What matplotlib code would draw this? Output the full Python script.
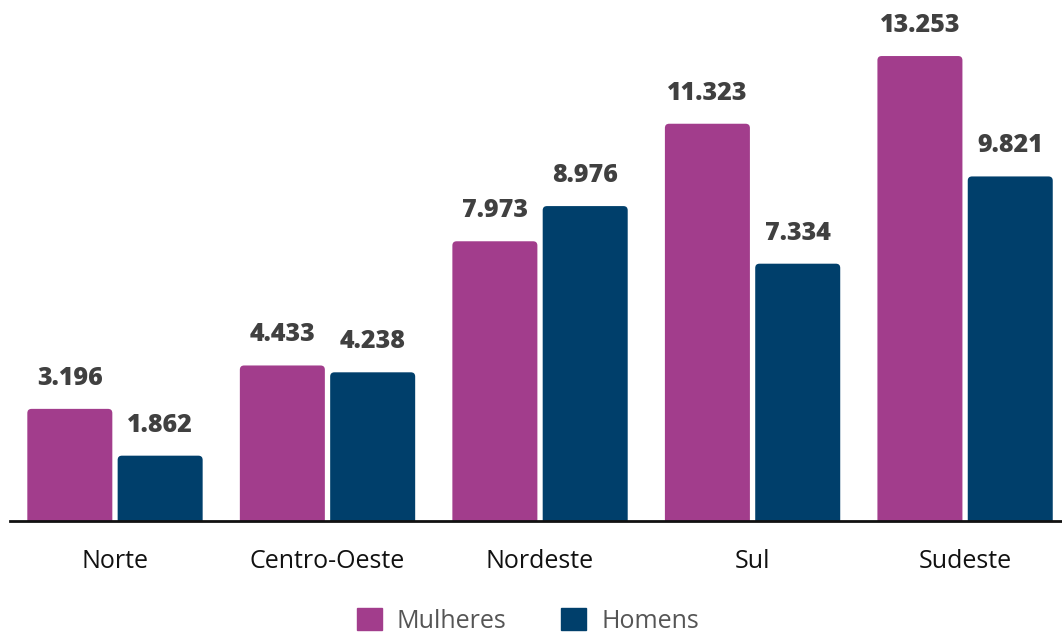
import matplotlib
matplotlib.use("Agg")
import matplotlib.pyplot as plt
from matplotlib.patches import FancyBboxPatch, Patch
import numpy as np

# dados por região
regioes = ["Norte", "Centro-Oeste", "Nordeste", "Sul", "Sudeste"]
mulheres = [3.196, 4.433, 7.973, 11.323, 13.253]
homens = [1.862, 4.238, 8.976, 7.334, 9.821]

cor_mulheres = "#A23D8C"
cor_homens = "#003F6B"

plt.rcParams['font.family'] = ['Open Sans', 'DejaVu Sans']

fig = plt.figure(figsize=(10.62, 6.36), dpi=100)
ax = fig.add_axes([10/1062, 1 - 521/636, 1052/1062, 521/636])

x = np.arange(len(regioes))
largura = 0.4
desloc = 0.2125

b1 = ax.bar(x - desloc, mulheres, largura, color=cor_mulheres, label="Mulheres")
b2 = ax.bar(x + desloc, homens, largura, color=cor_homens, label="Homens")

ax.set_xlim(-0.494, 4.456)
ax.set_ylim(0, 14.85)

# cantos arredondados: troca os retângulos por FancyBboxPatch
aspecto = (14.85 / 521) / (4.95 / 1052)
for barras in (b1, b2):
    for r in barras:
        r.set_visible(False)
        p = FancyBboxPatch((r.get_x(), -0.3), r.get_width(), r.get_height() + 0.3,
                           boxstyle="round,pad=0,rounding_size=0.02",
                           mutation_aspect=aspecto,
                           facecolor=r.get_facecolor(), edgecolor="none")
        ax.add_patch(p)

def fmt(v):
    return f"{v:.3f}"

for barras, vals in ((b1, mulheres), (b2, homens)):
    for r, v in zip(barras, vals):
        ax.annotate(fmt(v), (r.get_x() + r.get_width() / 2, v),
                    xytext=(0, 13), textcoords="offset points",
                    ha="center", va="bottom", fontsize=18, fontweight=800,
                    color="#404040")

for s in ("top", "right", "left"):
    ax.spines[s].set_visible(False)
ax.spines["bottom"].set_linewidth(2)
ax.spines["bottom"].set_color("#111111")
ax.set_yticks([])
ax.set_xticks(x)
ax.set_xticklabels(regioes, fontsize=18, color="#111111")
ax.tick_params(axis="x", length=0, pad=20)

handles = [Patch(color=cor_mulheres, label="Mulheres"),
           Patch(color=cor_homens, label="Homens")]
fig.legend(handles=handles, loc="lower center", bbox_to_anchor=(0.497, -0.032),
           ncol=2, frameon=False, fontsize=18, handlelength=1.0, handleheight=1.0,
           columnspacing=2.2, handletextpad=0.6, labelcolor="#555555")

fig.savefig("out.png", dpi=100)
